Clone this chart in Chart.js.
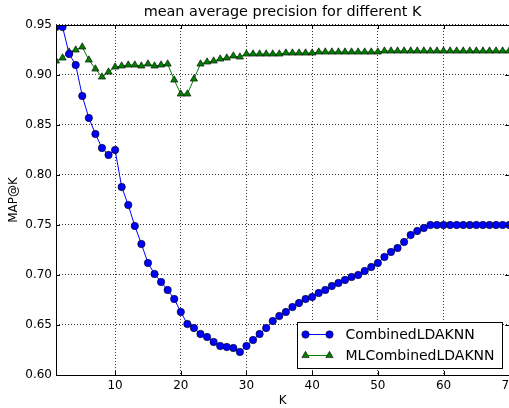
<!DOCTYPE html>
<html>
<head>
<meta charset="utf-8">
<script src="https://cdn.jsdelivr.net/npm/chart.js@4/dist/chart.umd.min.js"></script>
<style>
  html, body { margin: 0; padding: 0; background: #fff; overflow: hidden; }
  #wrap { width: 514px; height: 408px; position: relative; }
</style>
</head>
<body>
<div id="wrap"><canvas id="mapChart"></canvas></div>
<script>
/* ── Data ─────────────────────────────────────────────────────────────── */
const kValues = [
  1, 2, 3, 4, 5, 6, 7, 8, 9, 10, 11, 12, 13, 14, 15, 16, 17, 18, 19, 20,
  21, 22, 23, 24, 25, 26, 27, 28, 29, 30, 31, 32, 33, 34, 35, 36, 37, 38, 39, 40,
  41, 42, 43, 44, 45, 46, 47, 48, 49, 50, 51, 52, 53, 54, 55, 56, 57, 58, 59, 60,
  61, 62, 63, 64, 65, 66, 67, 68, 69, 70
];

const combinedLDAKNN = [
  0.948, 0.948, 0.921, 0.910, 0.879, 0.857, 0.841, 0.827, 0.820, 0.825,
  0.788, 0.770, 0.749, 0.731, 0.712, 0.701, 0.693, 0.685, 0.676, 0.663,
  0.651, 0.647, 0.641, 0.638, 0.633, 0.629, 0.628, 0.627, 0.623, 0.629,
  0.635, 0.641, 0.647, 0.654, 0.659, 0.663, 0.668, 0.672, 0.676, 0.678,
  0.682, 0.685, 0.689, 0.692, 0.695, 0.698, 0.700, 0.704, 0.708, 0.712,
  0.718, 0.723, 0.727, 0.733, 0.740, 0.744, 0.747, 0.750, 0.750, 0.750,
  0.750, 0.750, 0.750, 0.750, 0.750, 0.750, 0.750, 0.750, 0.750, 0.750
];

const mlCombinedLDAKNN = [
  0.914, 0.917, 0.923, 0.925, 0.928, 0.915, 0.906, 0.898, 0.903, 0.908,
  0.909, 0.910, 0.910, 0.909, 0.911, 0.909, 0.910, 0.911, 0.895, 0.881,
  0.881, 0.896, 0.911, 0.913, 0.914, 0.916, 0.917, 0.919, 0.918, 0.921,
  0.921, 0.921, 0.921, 0.921, 0.921, 0.922, 0.922, 0.922, 0.922, 0.922,
  0.923, 0.923, 0.923, 0.923, 0.923, 0.923, 0.923, 0.923, 0.923, 0.923,
  0.924, 0.924, 0.924, 0.924, 0.924, 0.924, 0.924, 0.924, 0.924, 0.924,
  0.924, 0.924, 0.924, 0.924, 0.924, 0.924, 0.924, 0.924, 0.924, 0.924
];

const xTicks = [10, 20, 30, 40, 50, 60, 70];
const yTicks = [0.60, 0.65, 0.70, 0.75, 0.80, 0.85, 0.90, 0.95];

const FONT = '"DejaVu Sans", sans-serif';

/* ── Plugins: frame, inward ticks, legend box ─────────────────────────── */
const framePlugin = {
  id: "frame",
  afterLayout(chart) {
    // centre the title over the plot area, like matplotlib does
    const t = chart.titleBlock;
    if (t) {
      t.left = chart.chartArea.left;
      t.right = chart.chartArea.right;
      t.width = t.right - t.left;
    }
  },
  afterDatasetsDraw(chart) {
    const { ctx, chartArea: a, scales } = chart;
    ctx.save();
    ctx.strokeStyle = "#000";
    ctx.lineWidth = 1;
    ctx.beginPath();
    xTicks.forEach((t) => {
      const x = Math.round(scales.x.getPixelForValue(t)) + 0.5;
      ctx.moveTo(x, a.bottom); ctx.lineTo(x, a.bottom - 4);
      ctx.moveTo(x, a.top); ctx.lineTo(x, a.top + 4);
    });
    yTicks.forEach((t) => {
      const y = Math.round(scales.y.getPixelForValue(t)) + 0.5;
      ctx.moveTo(a.left, y); ctx.lineTo(a.left + 4, y);
      ctx.moveTo(a.right, y); ctx.lineTo(a.right - 4, y);
    });
    ctx.stroke();
    ctx.strokeRect(Math.round(a.left) + 0.5, Math.round(a.top) + 0.5,
      Math.round(a.right - a.left), Math.round(a.bottom - a.top));
    ctx.restore();
  }
};

const legendPlugin = {
  id: "boxLegend",
  afterDraw(chart) {
    const { ctx, chartArea: a } = chart;
    const w = 205, h = 46;
    const x0 = Math.round(a.right - 7 - w) + 0.5;
    const y0 = Math.round(a.bottom - 7 - h) + 0.5;
    ctx.save();
    ctx.fillStyle = "#fff";
    ctx.fillRect(x0, y0, w, h);
    ctx.strokeStyle = "#000";
    ctx.lineWidth = 1;
    ctx.strokeRect(x0, y0, w, h);
    ctx.font = "14px " + FONT;
    ctx.textBaseline = "middle";
    chart.data.datasets.forEach((ds, i) => {
      const y = y0 + 12 + i * 21;
      ctx.strokeStyle = ds.borderColor;
      ctx.lineWidth = 1;
      ctx.beginPath();
      ctx.moveTo(x0 + 8, y); ctx.lineTo(x0 + 32, y);
      ctx.stroke();
      [x0 + 8, x0 + 32].forEach((px) => {
        ctx.fillStyle = ds.pointBackgroundColor;
        ctx.strokeStyle = ds.pointBorderColor;
        ctx.lineWidth = ds.pointBorderWidth;
        Chart.helpers.drawPoint(ctx, {
          pointStyle: ds.pointStyle,
          radius: ds.pointRadius,
          borderWidth: ds.pointBorderWidth
        }, px, y);
      });
      ctx.fillStyle = "#000";
      ctx.fillText(ds.label, x0 + 48, y + 1);
    });
    ctx.restore();
  }
};

/* ── Chart ────────────────────────────────────────────────────────────── */
new Chart(document.getElementById("mapChart"), {
  type: "line",
  data: {
    datasets: [
      {
        label: "CombinedLDAKNN",
        data: kValues.map((k, i) => ({ x: k, y: combinedLDAKNN[i] })),
        borderColor: "#0000ff",
        borderWidth: 1,
        pointStyle: "circle",
        pointRadius: 3.7,
        pointBackgroundColor: "#0000ff",
        pointBorderColor: "#000",
        pointBorderWidth: 0.6,
        clip: 0
      },
      {
        label: "MLCombinedLDAKNN",
        data: kValues.map((k, i) => ({ x: k, y: mlCombinedLDAKNN[i] })),
        borderColor: "#008000",
        borderWidth: 1,
        pointStyle: "triangle",
        pointRadius: 4.2,
        pointBackgroundColor: "#008000",
        pointBorderColor: "#000",
        pointBorderWidth: 0.6,
        clip: 0
      }
    ]
  },
  options: {
    responsive: true,
    maintainAspectRatio: false,
    animation: false,
    layout: { padding: { left: 0, right: 2, top: 0, bottom: 0 } },
    plugins: {
      legend: { display: false },
      tooltip: { enabled: false },
      title: {
        display: true,
        text: "mean average precision for different K",
        color: "#000",
        font: { family: FONT, size: 14.4, weight: "normal" },
        padding: { top: 3.5, bottom: 4.2 }
      }
    },
    scales: {
      x: {
        type: "linear",
        min: 1,
        max: 70,
        afterBuildTicks: (s) => { s.ticks = xTicks.map((v) => ({ value: v })); },
        afterFit: (s) => { s.height = 33; s.paddingLeft = 0; s.paddingRight = 0; },
        grid: { color: "rgba(0,0,0,0.8)", lineWidth: 1, drawTicks: false },
        border: { display: false, dash: [1, 2] },
        ticks: {
          color: "#000",
          padding: 4,
          maxRotation: 0,
          autoSkip: false,
          font: { family: FONT, size: 12 }
        },
        title: {
          display: true,
          text: "K",
          color: "#000",
          font: { family: FONT, size: 12 },
          padding: 0
        }
      },
      y: {
        min: 0.60,
        max: 0.95,
        afterBuildTicks: (s) => { s.ticks = yTicks.map((v) => ({ value: v })); },
        afterFit: (s) => { s.width = 56; s.paddingTop = 0; s.paddingBottom = 0; },
        grid: { color: "rgba(0,0,0,0.8)", lineWidth: 1, drawTicks: false },
        border: { display: false, dash: [1, 2] },
        ticks: {
          color: "#000",
          padding: 4,
          autoSkip: false,
          font: { family: FONT, size: 12 },
          callback: (v) => v.toFixed(2)
        },
        title: {
          display: true,
          text: "MAP@K",
          color: "#000",
          font: { family: FONT, size: 12 },
          padding: { top: 7, bottom: 0 }
        }
      }
    }
  },
  plugins: [framePlugin, legendPlugin]
});
</script>
</body>
</html>
